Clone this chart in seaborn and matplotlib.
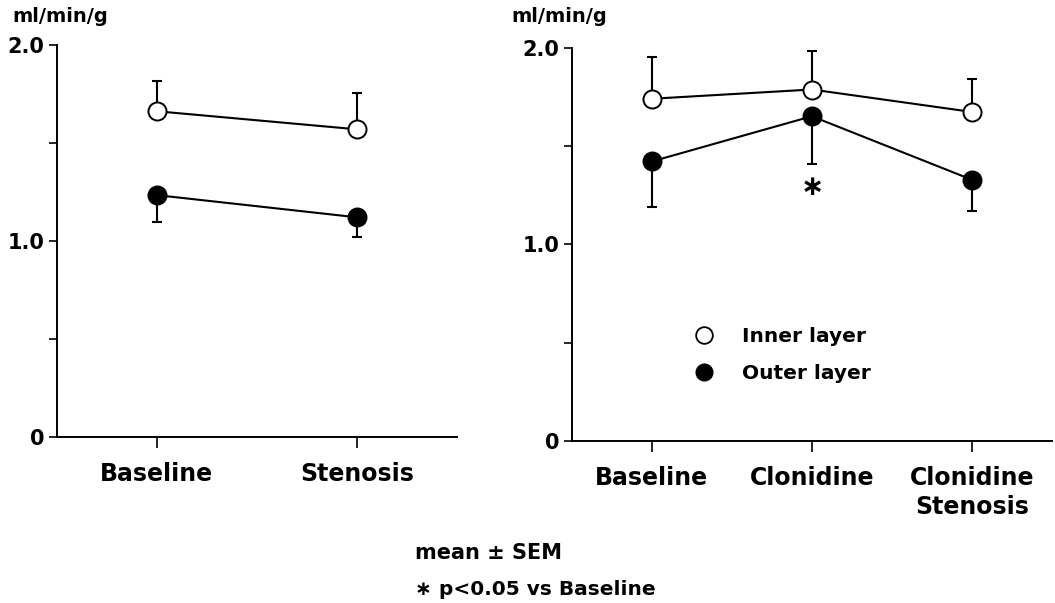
import seaborn as sns
import pandas as pd
import matplotlib.pyplot as plt

# valores (ml/min/g)
left_cats = ["Baseline", "Stenosis"]
left_inner = [1.663, 1.571]
left_inner_sem = [0.157, 0.184]
left_outer = [1.235, 1.122]
left_outer_sem = [0.135, 0.102]

right_cats = ["Baseline", "Clonidine", "Clonidine\nStenosis"]
right_inner = [1.740, 1.787, 1.673]
right_inner_sem = [0.212, 0.196, 0.165]
right_outer = [1.421, 1.651, 1.328]
right_outer_sem = [0.231, 0.243, 0.157]

y_ticks = [0, 0.5, 1.0, 1.5, 2.0]
y_labels = ["0", "", "1.0", "", "2.0"]

sns.set_style("ticks", {"axes.edgecolor": "black", "text.color": "black",
                        "xtick.color": "black", "ytick.color": "black"})
plt.rcParams["font.family"] = ["DejaVu Sans"]
plt.rcParams["font.weight"] = "bold"

fig = plt.figure(figsize=(10.55, 6.03), dpi=100)
ax1 = fig.add_axes([0.054, 0.275, 0.379, 0.650])
ax2 = fig.add_axes([0.542, 0.269, 0.455, 0.652])


def draw(ax, cats, inner, inner_sem, outer, outer_sem, xmax):
    df = pd.DataFrame({"cond": cats, "inner": inner, "outer": outer})
    xs = list(range(len(cats)))
    # barras de erro de um lado so
    ax.errorbar(xs, inner, yerr=[[0] * len(cats), inner_sem], fmt="none",
                ecolor="black", elinewidth=1.5, capsize=3.3, capthick=1.5, zorder=1)
    ax.errorbar(xs, outer, yerr=[outer_sem, [0] * len(cats)], fmt="none",
                ecolor="black", elinewidth=1.5, capsize=3.3, capthick=1.5, zorder=1)
    sns.lineplot(data=df, x="cond", y="inner", ax=ax, color="black", lw=1.5,
                 marker="o", markersize=13, markerfacecolor="white",
                 markeredgecolor="black", markeredgewidth=1.4, sort=False, zorder=3)
    sns.lineplot(data=df, x="cond", y="outer", ax=ax, color="black", lw=1.5,
                 marker="o", markersize=13, markerfacecolor="black",
                 markeredgecolor="black", markeredgewidth=1.4, sort=False, zorder=3)
    ax.set_xlim(-0.5, xmax)
    ax.set_ylim(0, 2.0)
    ax.set_yticks(y_ticks)
    ax.set_yticklabels(y_labels)
    ax.set_xticks(xs)
    ax.set_xticklabels(cats, linespacing=1.3)
    ax.set_xlabel("")
    ax.set_ylabel("")
    sns.despine(ax=ax)
    for s in ["left", "bottom"]:
        ax.spines[s].set_linewidth(1.4)
    ax.tick_params(axis="y", length=6, width=1.2, pad=3, labelsize=15)
    ax.tick_params(axis="x", length=8, width=1.2, pad=10, labelsize=17)


draw(ax1, left_cats, left_inner, left_inner_sem, left_outer, left_outer_sem, 1.5)
draw(ax2, right_cats, right_inner, right_inner_sem, right_outer, right_outer_sem, 2.5)

fig.text(0.012, 0.972, "ml/min/g", fontsize=14, fontweight="bold", ha="left", va="center")
fig.text(0.485, 0.972, "ml/min/g", fontsize=14, fontweight="bold", ha="left", va="center")

# asterisco (p<0.05)
ax2.text(1, 1.29, "\u2217", ha="center", va="center", fontsize=20, fontweight="bold")

# legenda
ax2.plot([], [], "o", color="black", markerfacecolor="white", markersize=12,
         markeredgewidth=1.3, label="Inner layer")
ax2.plot([], [], "o", color="black", markersize=12, label="Outer layer")
h, l = ax2.get_legend_handles_labels()
ax2.legend(h[-2:], l[-2:], loc="center left", bbox_to_anchor=(0.196, 0.219),
           frameon=False, fontsize=14.5, handletextpad=0.9, labelspacing=0.9)

fig.text(0.393, 0.083, "mean \u00b1 SEM", fontsize=15, fontweight="bold",
         ha="left", va="center")
fig.text(0.393, 0.022, "\u2217 p<0.05 vs Baseline", fontsize=14.5, fontweight="bold",
         ha="left", va="center")

plt.savefig("out.png", dpi=100)
